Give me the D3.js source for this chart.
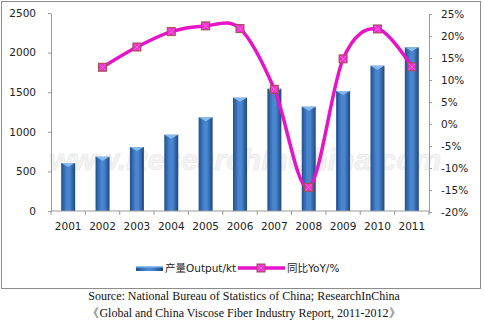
<!DOCTYPE html>
<html lang="en">
<head>
<meta charset="utf-8">
<title>Viscose Fiber Output</title>
<script src="https://cdnjs.cloudflare.com/ajax/libs/d3/7.8.5/d3.min.js"></script>
<style>
body { margin: 0; background: #fff; }
.axis text { font-family: "DejaVu Sans", sans-serif; font-size: 10.5px; fill: #222; }
.axis path, .axis line { stroke: #999; }
.legend-text { font-family: "DejaVu Sans", "Noto Sans CJK SC", sans-serif; font-size: 10.5px; fill: #222; }
.source { font-family: "Liberation Serif", serif; font-size: 12px; fill: #111; }
</style>
</head>
<body>
<div id="chart"></div>
<script>

const w = 484;
const h = 323;

const years = ["2001", "2002", "2003", "2004", "2005", "2006", "2007", "2008", "2009", "2010", "2011"];
const output = [606, 685, 808, 963, 1183, 1431, 1545, 1317, 1515, 1835, 2067];
const yoy = [null, 12.9, 17.5, 21.0, 22.3, 21.7, 7.9, -14.4, 14.8, 21.6, 13.0];
const leftTicks = [0, 500, 1000, 1500, 2000, 2500];
const rightTicks = [-20, -15, -10, -5, 0, 5, 10, 15, 20, 25];

const plot = { left: 51, right: 429, top: 13, bottom: 211 };

const svg = d3.select("#chart")
   .append("svg")
   .attr("width", w)
   .attr("height", h);

// gradients for the glossy bars
const defs = svg.append("defs");
const grad = defs.append("linearGradient").attr("id", "barGrad")
   .attr("x1", "0").attr("x2", "1").attr("y1", "0").attr("y2", "0");
grad.append("stop").attr("offset", "0%").attr("stop-color", "#1f4f8f");
grad.append("stop").attr("offset", "40%").attr("stop-color", "#4a86d0");
grad.append("stop").attr("offset", "60%").attr("stop-color", "#4a86d0");
grad.append("stop").attr("offset", "100%").attr("stop-color", "#1c477f");

// outer frame
svg.append("rect")
   .attr("x", 1.5).attr("y", 1.5)
   .attr("width", 479).attr("height", 287)
   .attr("fill", "none")
   .attr("stroke", "#8c8c8c");

const xScale = d3.scaleBand()
   .domain(years)
   .range([plot.left, plot.right]);

const yLeft = d3.scaleLinear()
   .domain([0, 2500])
   .range([plot.bottom, plot.top]);

const yRight = d3.scaleLinear()
   .domain([-20, 25])
   .range([plot.bottom + 1, plot.top + 1]);

// watermark
svg.append("text")
   .attr("x", 245).attr("y", 170)
   .attr("text-anchor", "middle")
   .style("font-family", "Liberation Sans, sans-serif")
   .style("font-size", "30px")
   .style("font-style", "italic")
   .style("font-weight", "bold")
   .style("fill", "#eeeeee")
   .style("stroke", "#dddddd")
   .style("stroke-width", 0.6)
   .style("opacity", 0.7)
   .text("www.ResearchInChina.com");

// bars
const barW = 14;
const bars = svg.selectAll(".bar")
   .data(years)
   .enter()
   .append("g")
   .attr("class", "bar");

bars.append("rect")
   .attr("x", d => xScale(d) + xScale.bandwidth() / 2 - barW / 2)
   .attr("y", (d, i) => yLeft(output[i]))
   .attr("width", barW)
   .attr("height", (d, i) => yLeft(0) - yLeft(output[i]))
   .attr("fill", "url(#barGrad)");

// light cap on top of each bar
bars.append("path")
   .attr("d", (d, i) => {
      const x0 = xScale(d) + xScale.bandwidth() / 2 - barW / 2;
      const y0 = yLeft(output[i]);
      return `M${x0},${y0} L${x0 + barW},${y0} L${x0 + barW / 2},${y0 + 4} Z`;
   })
   .attr("fill", "#8ec0f0")
   .attr("opacity", 0.9);

// axes
const xAxis = d3.axisBottom(xScale).tickSize(0).tickPadding(12);
svg.append("g")
   .attr("class", "axis")
   .attr("transform", `translate(0,${plot.bottom})`)
   .call(xAxis)
   .call(g => g.select(".domain").attr("d", `M${plot.left},0H${plot.right}`));

// small ticks between categories
svg.selectAll(".xtick")
   .data(years.concat(["end"]))
   .enter()
   .append("line")
   .attr("x1", (d, i) => plot.left + i * xScale.step())
   .attr("x2", (d, i) => plot.left + i * xScale.step())
   .attr("y1", plot.bottom)
   .attr("y2", plot.bottom + 4)
   .attr("stroke", "#999");

svg.append("g")
   .attr("class", "axis")
   .attr("transform", `translate(${plot.left},0)`)
   .call(d3.axisLeft(yLeft).tickValues(leftTicks).tickSize(3).tickSizeOuter(0).tickPadding(12)
      .tickFormat(d3.format("d")));

svg.append("g")
   .attr("class", "axis")
   .attr("transform", `translate(${plot.right},0)`)
   .call(d3.axisRight(yRight).tickValues(rightTicks).tickSize(3).tickSizeOuter(0).tickPadding(9)
      .tickFormat(d => d + "%"));

// YoY line
const pts = years.map((d, i) => ({ year: d, v: yoy[i] })).filter(d => d.v !== null);
const line = d3.line()
   .x(d => xScale(d.year) + xScale.bandwidth() / 2)
   .y(d => yRight(d.v))
   .curve(d3.curveCardinal.tension(0));

svg.append("path")
   .datum(pts)
   .attr("d", line)
   .attr("fill", "none")
   .attr("stroke", "#e614c8")
   .attr("stroke-width", 3.5);

function marker(g) {
   g.append("rect")
      .attr("x", -4).attr("y", -4)
      .attr("width", 8).attr("height", 8)
      .attr("fill", "#f02ed2")
      .attr("stroke", "#a0504e")
      .attr("stroke-width", 1);
   g.append("path")
      .attr("d", "M-3,-3L3,3M3,-3L-3,3")
      .attr("stroke", "#f78ee6")
      .attr("stroke-width", 0.6);
}

svg.selectAll(".pt")
   .data(pts)
   .enter()
   .append("g")
   .attr("class", "pt")
   .attr("transform", d => `translate(${xScale(d.year) + xScale.bandwidth() / 2},${yRight(d.v)})`)
   .each(function() { marker(d3.select(this)); });

// legend
svg.append("rect")
   .attr("x", 136).attr("y", 266)
   .attr("width", 27).attr("height", 5)
   .attr("fill", "url(#barGrad)");
svg.append("rect")
   .attr("x", 136).attr("y", 266)
   .attr("width", 27).attr("height", 1.5)
   .attr("fill", "#8ec0f0");
svg.append("text")
   .attr("class", "legend-text")
   .attr("x", 165).attr("y", 272)
   .text("产量Output/kt");

svg.append("line")
   .attr("x1", 238).attr("x2", 285)
   .attr("y1", 268).attr("y2", 268)
   .attr("stroke", "#e614c8")
   .attr("stroke-width", 3.5);
svg.append("g")
   .attr("transform", "translate(261,268)")
   .call(marker);
svg.append("text")
   .attr("class", "legend-text")
   .attr("x", 287).attr("y", 272)
   .text("同比YoY/%");

// source
svg.append("text")
   .attr("class", "source")
   .attr("x", 244).attr("y", 300)
   .attr("text-anchor", "middle")
   .text("Source: National Bureau of Statistics of China; ResearchInChina");
svg.append("text")
   .attr("class", "source")
   .attr("x", 244).attr("y", 317)
   .attr("text-anchor", "middle")
   .text("《Global and China Viscose Fiber Industry Report, 2011-2012》");

</script>
</body>
</html>
